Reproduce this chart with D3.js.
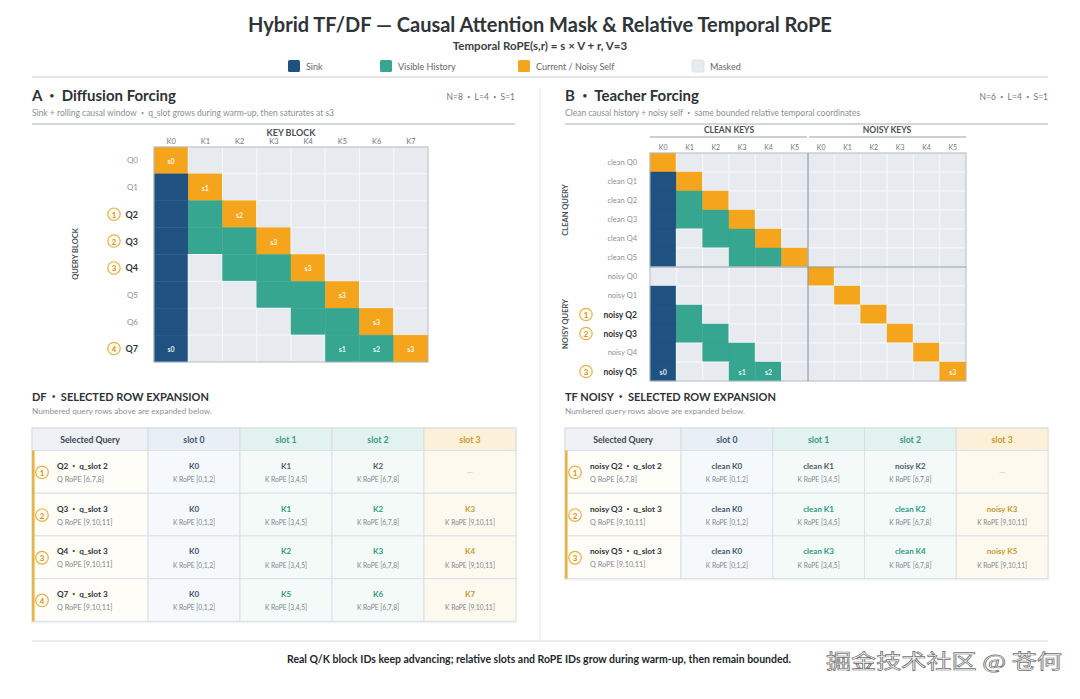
<!DOCTYPE html>
<html><head><meta charset="utf-8">
<script src="https://cdn.jsdelivr.net/npm/d3@7"></script>
<style>
body{margin:0;background:#fff;}
svg{display:block;font-family:Lato,"Noto Sans",sans-serif;}
</style></head><body><svg id="c" width="1080" height="699"></svg>
<script>
// ---------- data ----------
const legendItems = ["Sink","Visible History","Current / Noisy Self","Masked"];
const legendCodes = ["S","V","C","."];

const dfKeys = ["K0","K1","K2","K3","K4","K5","K6","K7"];
const dfQueries = ["Q0","Q1","Q2","Q3","Q4","Q5","Q6","Q7"];
const dfMask = [
  "C.......",
  "SC......",
  "SVC.....",
  "SVVC....",
  "S.VVC...",
  "S..VVC..",
  "S...VVC.",
  "S....VVC"];
const dfCellLabels = [[0,0,"s0"],[1,1,"s1"],[2,2,"s2"],[3,3,"s3"],[4,4,"s3"],[5,5,"s3"],[6,6,"s3"],[7,0,"s0"],[7,5,"s1"],[7,6,"s2"],[7,7,"s3"]];
const dfMarks = [0,0,1,2,3,0,0,4];

const tfKeys = ["K0","K1","K2","K3","K4","K5","K0","K1","K2","K3","K4","K5"];
const tfKeyGroups = ["CLEAN KEYS","NOISY KEYS"];
const tfQueries = ["clean Q0","clean Q1","clean Q2","clean Q3","clean Q4","clean Q5",
                   "noisy Q0","noisy Q1","noisy Q2","noisy Q3","noisy Q4","noisy Q5"];
const tfQueryGroups = ["CLEAN QUERY","NOISY QUERY"];
const tfMask = [
  "C...........",
  "SC..........",
  "SVC.........",
  "SVVC........",
  "S.VVC.......",
  "S..VVC......",
  "......C.....",
  "S......C....",
  "SV......C...",
  "SVV......C..",
  "S.VV......C.",
  "S..VV......C"];
const tfCellLabels = [[11,0,"s0"],[11,3,"s1"],[11,4,"s2"],[11,11,"s3"]];
const tfMarks = [0,0,0,0,0,0,0,0,1,2,0,3];

const slotNames = ["slot 0","slot 1","slot 2","slot 3"];
const slotRope = ["[0,1,2]","[3,4,5]","[6,7,8]","[9,10,11]"];
const dfSelQueries = ["Q2","Q3","Q4","Q7"];
const dfSelQSlot = [2,3,3,3];
const dfSelKeys = [["K0","K1","K2",null],["K0","K1","K2","K3"],["K0","K2","K3","K4"],["K0","K5","K6","K7"]];
const tfSelQueries = ["noisy Q2","noisy Q3","noisy Q5"];
const tfSelQSlot = [2,3,3];
const tfSelKeys = [["clean K0","clean K1","noisy K2",null],["clean K0","clean K1","clean K2","noisy K3"],["clean K0","clean K3","clean K4","noisy K5"]];

// ---------- style ----------
const COL = {S:"#1f5281", V:"#36a690", C:"#f4a51c", ".":"#e7ebf0"};
const svg = d3.select("#c");

function txt(g,x,y,s,o={}){
  const t=g.append("text").attr("x",x).attr("y",y)
   .attr("font-size",o.fs||10).attr("fill",o.fill||"#333")
   .attr("font-weight",o.fw||400).attr("text-anchor",o.anchor||"start")
   .attr("dominant-baseline","central");
  const parts=s.split(" • ");
  if(parts.length===1){ t.text(s); return t; }
  parts.forEach((p,i)=>{
    if(i>0){
      t.append("tspan").text("\u00a0\u00a0");
      t.append("tspan").attr("font-size",(o.fs||10)*0.6).attr("font-weight",400).text("•");
      t.append("tspan").text("\u00a0\u00a0"+p);
    } else t.append("tspan").text(p);
  });
  return t;
}

// title
txt(svg,540,24,"Hybrid TF/DF — Causal Attention Mask & Relative Temporal RoPE",{fs:20,fw:700,anchor:"middle",fill:"#2f3438"});
txt(svg,540,45,"Temporal RoPE(s,r) = s × V + r, V=3",{fs:11.5,fw:700,anchor:"middle",fill:"#3a3f44"});

// legend
const legPos = [288,380,518,692];
legendItems.forEach((d,i)=>{
  const x=legPos[i];
  svg.append("rect").attr("x",x).attr("y",60).attr("width",12).attr("height",12).attr("rx",1.5)
    .attr("fill",COL[legendCodes[i]]).attr("stroke",legendCodes[i]==="."?"#dde2e7":"none");
  txt(svg,x+18,66,d,{fs:9,fill:"#666"});
});
svg.append("line").attr("x1",32).attr("x2",1048).attr("y1",77).attr("y2",77).attr("stroke","#e4e6e8").attr("stroke-width",2);

// divider
svg.append("line").attr("x1",540).attr("x2",540).attr("y1",88).attr("y2",641).attr("stroke","#e3e5e7");
svg.append("line").attr("x1",32).attr("x2",1048).attr("y1",641).attr("y2",641).attr("stroke","#e4e6e8").attr("stroke-width",1.5);

// panel headers
function panelHeader(x0,x1,title,meta,sub){
  txt(svg,x0,95,title,{fs:15,fw:700,fill:"#2d3236"});
  txt(svg,x1,97,meta,{fs:8.5,fill:"#777",anchor:"end"});
  txt(svg,x0,113,sub,{fs:8.5,fill:"#8a8f94"});
  svg.append("line").attr("x1",x0).attr("x2",x1).attr("y1",124).attr("y2",124).attr("stroke","#a9afb5");
}
panelHeader(32,515,"A • Diffusion Forcing","N=8 • L=4 • S=1","Sink + rolling causal window • q_slot grows during warm-up, then saturates at s3");
panelHeader(565,1048,"B • Teacher Forcing","N=6 • L=4 • S=1","Clean causal history + noisy self • same bounded relative temporal coordinates");

function markCircle(g,cx,cy,n,r){
  g.append("circle").attr("cx",cx).attr("cy",cy).attr("r",r).attr("fill","#fffaf0").attr("stroke","#e2b34c").attr("stroke-width",1.2);
  txt(g,cx,cy+0.5,String(n),{fs:r*1.25,anchor:"middle",fill:"#c9952a",fw:700});
}

function drawGrid(o){
  const g=svg.append("g");
  const x=d3.scaleBand().domain(d3.range(o.keys.length)).range([o.x0,o.x1]);
  const y=d3.scaleBand().domain(d3.range(o.queries.length)).range([o.y0,o.y1]);
  const cells=[];
  o.mask.forEach((row,r)=>row.split("").forEach((c,k)=>cells.push({r,k,c})));
  g.selectAll("rect.cell").data(cells).join("rect").attr("class","cell")
    .attr("x",d=>x(d.k)).attr("y",d=>y(d.r)).attr("width",x.bandwidth()).attr("height",y.bandwidth())
    .attr("fill",d=>COL[d.c]).attr("stroke",d=>d.c==="."?"#f5f7f9":COL[d.c]).attr("stroke-width",d=>d.c==="."?1:0.4);
  g.selectAll("text.cl").data(o.labels).join("text").attr("class","cl")
    .attr("x",d=>x(d[1])+x.bandwidth()/2).attr("y",d=>y(d[0])+y.bandwidth()/2+0.5)
    .attr("text-anchor","middle").attr("dominant-baseline","central")
    .attr("font-size",7).attr("font-weight",700).attr("fill","#fff").attr("fill-opacity",0.9).text(d=>d[2]);
  g.append("rect").attr("x",o.x0).attr("y",o.y0).attr("width",o.x1-o.x0).attr("height",o.y1-o.y0)
    .attr("fill","none").attr("stroke","#b3bac1");
  o.keys.forEach((k,i)=>txt(g,x(i)+x.bandwidth()/2,o.colY,k,{fs:o.kfs,fill:"#6f767c",anchor:"middle"}));
  o.queries.forEach((q,i)=>{
    const m=o.marks[i];
    const cy=y(i)+y.bandwidth()/2;
    txt(g,o.rowX,cy,q,{fs:m?o.qfsB:o.qfs,fw:m?700:400,fill:m?"#2e3338":"#8b9197",anchor:"end"});
    if(m) markCircle(g,o.markX,cy,m,6.2);
  });
  return {g,x,y};
}

// Panel A grid
const A=drawGrid({keys:dfKeys,queries:dfQueries,mask:dfMask,labels:dfCellLabels,marks:dfMarks,
  x0:154,x1:428,y0:147,y1:362,colY:141.5,kfs:7.5,rowX:138,markX:114,qfs:8,qfsB:9});
txt(svg,291,132,"KEY BLOCK",{fs:9,fw:700,fill:"#4a5056",anchor:"middle"});
svg.append("text").attr("transform","translate(75,254) rotate(-90)").attr("text-anchor","middle")
  .attr("dominant-baseline","central").attr("font-size",7.5).attr("font-weight",700).attr("fill","#4a5056").text("QUERY BLOCK");

// Panel B grid
const B=drawGrid({keys:tfKeys,queries:tfQueries,mask:tfMask,labels:tfCellLabels,marks:tfMarks,
  x0:650,x1:966,y0:153,y1:381,colY:147,kfs:7,rowX:637,markX:586,qfs:7.5,qfsB:8.5});
{
  const xb=B.x, yb=B.y;
  const midX=xb(6), midY=yb(6);
  B.g.append("line").attr("x1",midX).attr("x2",midX).attr("y1",153).attr("y2",381).attr("stroke","#8f989f").attr("stroke-width",1.2);
  B.g.append("line").attr("x1",650).attr("x2",966).attr("y1",midY).attr("y2",midY).attr("stroke","#8f989f").attr("stroke-width",1.2);
  [[650,midX],[midX,966]].forEach((r,i)=>{
    svg.append("line").attr("x1",r[0]+(i?1:0)).attr("x2",r[1]-(i?0:1)).attr("y1",137).attr("y2",137).attr("stroke","#b9bfc5").attr("stroke-width",1.5);
    txt(svg,(r[0]+r[1])/2,129.5,tfKeyGroups[i],{fs:8.5,fw:700,fill:"#4a5056",anchor:"middle"});
  });
  [[153,midY],[midY,381]].forEach((r,i)=>{
    svg.append("text").attr("transform",`translate(565,${(r[0]+r[1])/2}) rotate(-90)`).attr("text-anchor","middle")
      .attr("dominant-baseline","central").attr("font-size",7.5).attr("font-weight",700).attr("fill","#4a5056").text(tfQueryGroups[i]);
  });
}

// Section headers
function secHeader(x,t){
  txt(svg,x,396,t,{fs:11,fw:700,fill:"#2d3236"});
  txt(svg,x,411,"Numbered query rows above are expanded below.",{fs:8.2,fill:"#8d9297"});
}
secHeader(32,"DF • SELECTED ROW EXPANSION");
secHeader(565,"TF NOISY • SELECTED ROW EXPANSION");

const headBg=["#eef1f5","#e9eff6","#e2f2ee","#e2f2ee","#fcf1d8"];
const bodyBg=["#fffdf8","#f5f9fc","#f3faf8","#f3faf8","#fef9ee"];
const headFill=["#3b4650","#3e5770","#3a9884","#3a9884","#c8992c"];
const keyFill=["#3e5468","#2f9883","#2f9883","#c49a35"];

function drawTable(x0,x1,firstW,rowsQ,rowsQS,rowsK){
  const g=svg.append("g");
  const y0=428, headH=22.5;
  const cols=["Selected Query",...slotNames];
  const xs=d3.scaleBand().domain(d3.range(4)).range([x0+firstW,x1]);
  const colX=i=>i===0?x0:xs(i-1);
  const colW=i=>i===0?firstW:xs.bandwidth();
  const ys=d3.scaleBand().domain(d3.range(rowsQ.length)).range([y0+headH,y0+headH+42.7*rowsQ.length]);
  const yEnd=ys.range()[1];
  g.append("rect").attr("x",x0-1).attr("y",y0-1).attr("width",x1-x0+2).attr("height",yEnd-y0+3).attr("fill","#f0f2f4").attr("rx",1);
  cols.forEach((c,i)=>{
    g.append("rect").attr("x",colX(i)).attr("y",y0).attr("width",colW(i)).attr("height",headH).attr("fill",headBg[i]).attr("stroke","#d6dce1");
    txt(g,colX(i)+colW(i)/2,y0+headH/2,c,{fs:8.7,fw:700,fill:headFill[i],anchor:"middle"});
  });
  rowsQ.forEach((q,r)=>{
    const yy=ys(r), h=ys.bandwidth(), cy=yy+h/2;
    cols.forEach((c,i)=>{
      g.append("rect").attr("x",colX(i)).attr("y",yy).attr("width",colW(i)).attr("height",h).attr("fill",bodyBg[i]).attr("stroke","#dbe0e5");
    });
    markCircle(g,x0+10,cy+0.5,r+1,6.3);
    txt(g,x0+25,cy-6,`${q} • q_slot ${rowsQS[r]}`,{fs:8.2,fw:700,fill:"#2e3338"});
    txt(g,x0+25,cy+7.5,`Q RoPE ${slotRope[rowsQS[r]]}`,{fs:7.3,fill:"#80868c"});
    rowsK[r].forEach((k,s)=>{
      const cx=xs(s)+xs.bandwidth()/2;
      if(k===null){ txt(g,cx,cy,"—",{fs:8,fill:"#c8c8c8",anchor:"middle"}); return; }
      const f = (r===0 && (s===1||s===2)) ? "#4b5a66" : keyFill[s];
      txt(g,cx,cy-6,k,{fs:8,fw:700,fill:f,anchor:"middle"});
      txt(g,cx,cy+7.5,`K RoPE ${slotRope[s]}`,{fs:6.7,fill:"#80868c",anchor:"middle"});
    });
  });
  g.append("rect").attr("x",x0).attr("y",ys(0)).attr("width",2.6).attr("height",yEnd-ys(0)).attr("fill","#e6b54a");
}
drawTable(32,516,116,dfSelQueries,dfSelQSlot,dfSelKeys);
drawTable(565,1048,116,tfSelQueries,tfSelQSlot,tfSelKeys);

// footer
txt(svg,539,659,"Real Q/K block IDs keep advancing; relative slots and RoPE IDs grow during warm-up, then remain bounded.",{fs:10.5,fw:700,fill:"#23272b",anchor:"middle"});
svg.append("text").attr("x",826).attr("y",660).attr("dominant-baseline","central")
  .attr("font-family","'Noto Sans CJK SC',sans-serif").attr("font-size",20)
  .attr("textLength",236).attr("lengthAdjust","spacingAndGlyphs")
  .attr("fill","#fff").attr("stroke","#6f6f6f").attr("stroke-width",0.7).text("掘金技术社区 @ 苍何");
</script></body></html>
